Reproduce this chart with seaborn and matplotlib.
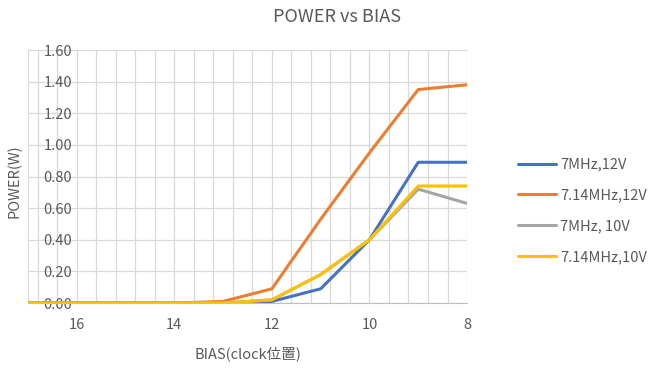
import numpy as np
import pandas as pd
import matplotlib.pyplot as plt
from matplotlib.ticker import MultipleLocator, FormatStrFormatter
import seaborn as sns

# -------------------------------
# Data
# -------------------------------
bias = [17, 16, 15, 14, 13, 12, 11, 10, 9, 8]
p_7mhz_12v = [0, 0, 0, 0, 0, 0.01, 0.09, 0.40, 0.89, 0.89]
p_714mhz_12v = [0, 0, 0, 0, 0.01, 0.09, 0.53, 0.95, 1.35, 1.38]
p_7mhz_10v = [0, 0, 0, 0, 0, 0.02, 0.18, 0.40, 0.72, 0.63]
p_714mhz_10v = [0, 0, 0, 0, 0, 0.02, 0.18, 0.40, 0.74, 0.74]

series_names = ["7MHz,12V", "7.14MHz,12V", "7MHz, 10V", "7.14MHz,10V"]
series_colors = ["#4472C4", "#ED7D31", "#A5A5A5", "#FFC000"]

# long table for seaborn
df = pd.concat([
    pd.DataFrame({"BIAS": bias, "POWER": vals, "series": name})
    for name, vals in zip(series_names,
                          [p_7mhz_12v, p_714mhz_12v, p_7mhz_10v, p_714mhz_10v])
])

sns.set_style("white")
plt.rcParams['font.family'] = ['Noto Sans CJK JP', 'DejaVu Sans']
text_gray = "#595959"
grid_gray = "#D9D9D9"

fig = plt.figure(figsize=(6.6, 3.74), dpi=100)
ax = fig.add_axes([0.0424, 0.1898, 0.6652, 0.6765])

sns.lineplot(data=df, x="BIAS", y="POWER", hue="series",
             hue_order=series_names, palette=series_colors,
             linewidth=2.2, ax=ax, zorder=3)

# axes: reversed x, 17 -> 8
ax.set_xlim(17, 8)
ax.set_ylim(0, 1.6)
ax.xaxis.set_major_locator(MultipleLocator(2))
ax.xaxis.set_minor_locator(MultipleLocator(0.4))
ax.yaxis.set_major_locator(MultipleLocator(0.2))
ax.yaxis.set_major_formatter(FormatStrFormatter("%.2f"))

ax.grid(which="both", axis="x", color=grid_gray, linewidth=0.9)
ax.grid(which="major", axis="y", color=grid_gray, linewidth=0.9)
ax.set_axisbelow(True)

for side in ["top", "right"]:
    ax.spines[side].set_visible(False)
ax.spines["left"].set_color(grid_gray)
ax.spines["bottom"].set_color("#BFBFBF")

ax.tick_params(axis="x", which="both", length=0, pad=11, labelsize=10.5,
               colors=text_gray)
ax.tick_params(axis="y", length=0, pad=-11, labelsize=10.5, colors=text_gray)
for lbl in ax.get_yticklabels():
    lbl.set_horizontalalignment("left")

ax.set_xlabel("BIAS(clock位置)", fontsize=10.5, color=text_gray)
ax.set_ylabel("POWER(W)", fontsize=10.5, color=text_gray)
ax.xaxis.set_label_coords(0.5, -0.172)
ax.yaxis.set_label_coords(-0.014, 0.48)

fig.text(0.51, 0.955, "POWER vs BIAS", ha="center", va="center",
         fontsize=13, color=text_gray)

ax.legend(loc="center left", bbox_to_anchor=(0.785, 0.436),
          bbox_transform=fig.transFigure, frameon=False, fontsize=10.5,
          labelcolor=text_gray, handlelength=2.6, handletextpad=0.3,
          labelspacing=1.15, borderpad=0, borderaxespad=0, title=None)

fig.savefig("out.png", dpi=100)
